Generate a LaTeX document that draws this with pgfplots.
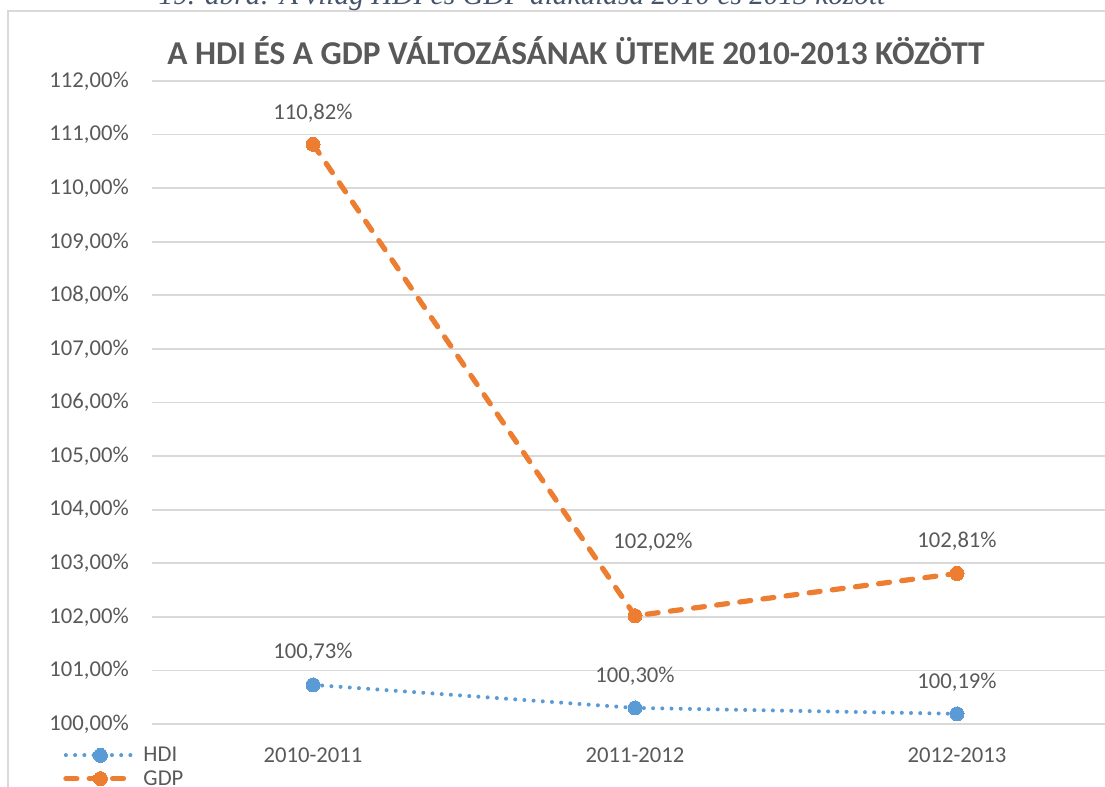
\documentclass[border=0pt]{standalone}
\usepackage{fontspec}
\setmainfont{Carlito}
\newfontfamily\capfont{Liberation Serif}
\usepackage{pgfplots}
\usepackage{pgfplotstable}
\pgfplotsset{compat=1.18}
\definecolor{hdi}{HTML}{5B9BD5}
\definecolor{gdp}{HTML}{ED7D31}
\definecolor{txt}{HTML}{595959}
\definecolor{grd}{HTML}{D9D9D9}
\definecolor{cap}{HTML}{44546A}

% pixel position (x from left, y from top) of the 1105x787 reference
\newcommand{\pxy}[2]{({#1*0.75pt},{(787-#2)*0.75pt})}

\pgfplotstableread{
x y dx dy
0 100.73 0 24.5
1 100.30 0 24
2 100.19 0 23.5
}\hditable

\pgfplotstableread{
x y dx dy
0 110.82 0 23.25
1 102.02 13.5 55.5
2 102.81 0 24
}\gdptable

\begin{document}
\begin{tikzpicture}
% chart frame
\draw[grd, line width=1.2pt] \pxy{8}{820} -- \pxy{8}{11} -- \pxy{1130}{11};
% caption, cut off at the top
\node[anchor=base, font=\capfont\itshape\fontsize{22}{26}\selectfont, text=cap]
  at \pxy{522}{5} {19. ábra: A világ HDI és GDP alakulása 2010 és 2013 között};
\node[font=\bfseries\fontsize{25}{30}\selectfont, text=txt] at \pxy{576}{51}
  {A HDI ÉS A GDP VÁLTOZÁSÁNAK ÜTEME 2010-2013 KÖZÖTT};

\begin{axis}[
  scale only axis, width=724.5pt, height=482.25pt,
  at={(114pt,47.25pt)}, anchor=south west,
  xmin=-0.5, xmax=2.5, ymin=100, ymax=112,
  ytick distance=1,
  xtick={0,1,2}, xticklabels={2010-2011,2011-2012,2012-2013},
  axis line style={draw=none}, major tick length=0,
  ymajorgrids, grid style={grd, line width=1.3pt},
  /pgf/number format/assume math mode=true,
  tick label style={font=\fontsize{17}{20}\selectfont, text=txt},
  yticklabel={\pgfmathprintnumber[fixed,fixed zerofill,precision=2,use comma]{\tick}\%},
  yticklabel style={anchor=east, inner sep=0pt, xshift=-17.25pt},
  xticklabel style={anchor=center, inner sep=0pt, yshift=-23.25pt},
  clip=false,
  point meta=y,
  nodes near coords={\pgfmathprintnumber[fixed,fixed zerofill,precision=2,use comma]{\pgfplotspointmeta}\%},
  visualization depends on={\thisrow{dx} \as \dx},
  visualization depends on={\thisrow{dy} \as \dy},
  every node near coord/.append style={anchor=center, inner sep=0pt,
    font=\fontsize{17}{20}\selectfont, text=txt, xshift=\dx pt, yshift=\dy pt},
  legend image code/.code={\draw[mark repeat=2,mark phase=2,#1]
    plot coordinates {(0pt,0pt) (25.9pt,0pt) (51.75pt,0pt)};},
  legend style={at={(axis description cs:-0.0921,-0.0355)}, anchor=north west,
    draw=none, fill=none, inner sep=0pt, row sep=5pt,
    font=\fontsize{17}{20}\selectfont, text=txt,
    nodes={inner sep=0pt}, /tikz/every odd column/.append style={column sep=4.5pt}},
  legend cell align=left,
]
\addplot[hdi, line width=3pt, dash pattern=on 0.01pt off 6.9pt, line cap=round,
  mark=*, mark size=5.25pt, mark options={solid, fill=hdi, draw=hdi, line width=0pt}]
  table[x=x, y=y] {\hditable};
\addlegendentry{HDI}
\addplot[gdp, line width=3.9pt, dash pattern=on 8.25pt off 9.25pt, line cap=round,
  mark=*, mark size=5.25pt, mark options={solid, fill=gdp, draw=gdp, line width=0pt}]
  table[x=x, y=y] {\gdptable};
\addlegendentry{GDP}
\end{axis}
\pgfresetboundingbox
\path[use as bounding box] (0,0) rectangle (828.75pt,590.25pt);
\end{tikzpicture}
\end{document}
